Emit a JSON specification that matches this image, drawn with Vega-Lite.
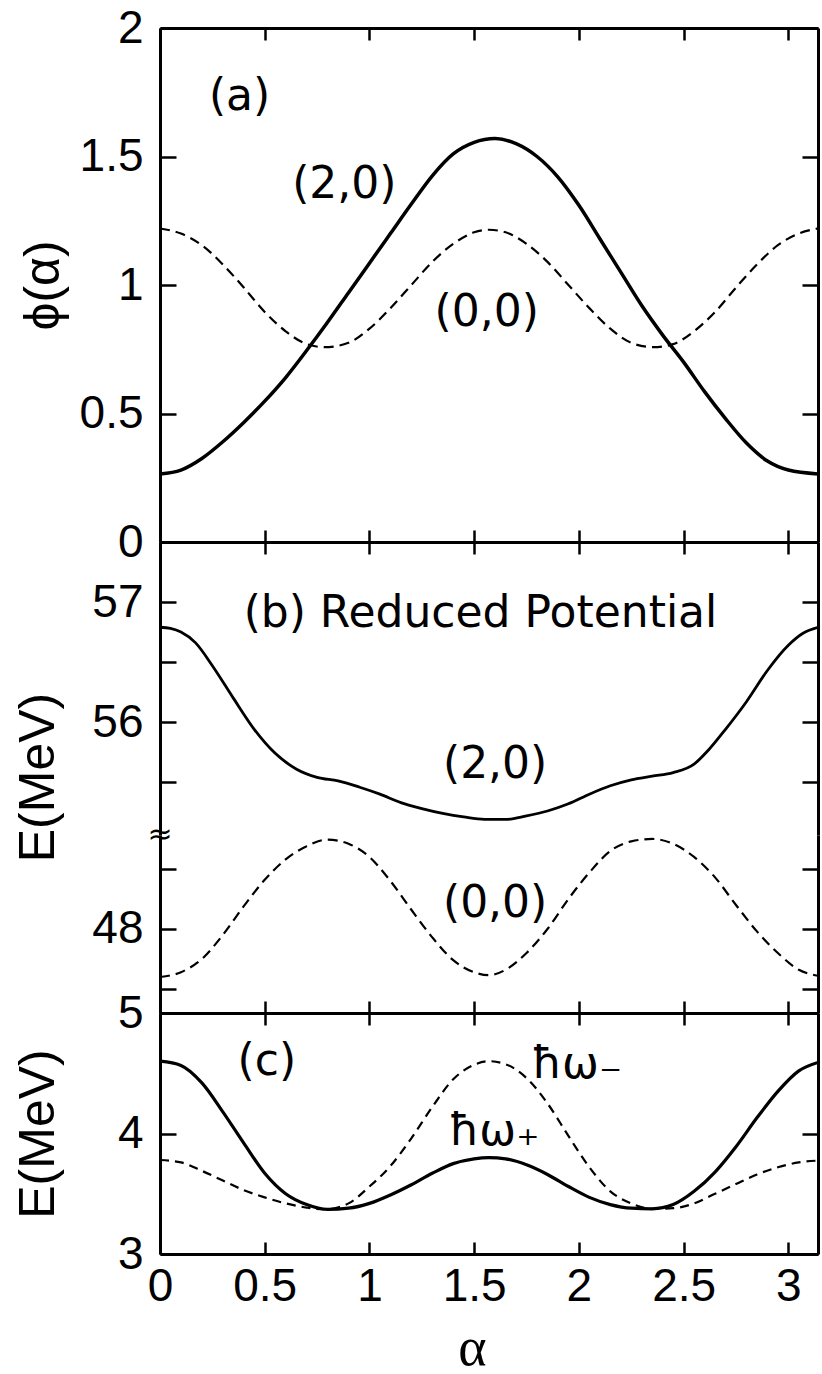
{
  "$schema": "https://vega.github.io/schema/vega-lite/v6.json",
  "padding": {"left": 13, "top": 5, "right": 0, "bottom": 0},
  "background": "white",
  "bounds": "flush",
  "spacing": 0,
  "config": {
    "view": {"stroke": null},
    "axis": {
      "labelFont": "Liberation Sans", "labelFontSize": 46, "labelColor": "black",
      "domainColor": "black", "domainWidth": 3, "tickColor": "black", "tickWidth": 2.5,
      "grid": false, "labelFlush": false, "labelOverlap": false,
      "titleFont": "Liberation Sans", "titleFontSize": 50, "titleFontWeight": "normal", "titleColor": "black"
    },
    "text": {"font": "DejaVu Sans", "fontSize": 44, "color": "black", "align": "center", "baseline": "middle"}
  },
  "datasets": {
    "a20": [
      {"alpha": 0, "v": 0.265}, {"alpha": 0.1, "v": 0.28}, {"alpha": 0.2, "v": 0.325}, {"alpha": 0.3, "v": 0.39},
      {"alpha": 0.4, "v": 0.465}, {"alpha": 0.5, "v": 0.548}, {"alpha": 0.6, "v": 0.64}, {"alpha": 0.7, "v": 0.745},
      {"alpha": 0.8, "v": 0.855}, {"alpha": 0.9, "v": 0.97}, {"alpha": 1.0, "v": 1.085}, {"alpha": 1.1, "v": 1.2},
      {"alpha": 1.2, "v": 1.315}, {"alpha": 1.3, "v": 1.425}, {"alpha": 1.4, "v": 1.51}, {"alpha": 1.5, "v": 1.555},
      {"alpha": 1.6, "v": 1.57}, {"alpha": 1.7, "v": 1.55}, {"alpha": 1.8, "v": 1.5}, {"alpha": 1.9, "v": 1.42},
      {"alpha": 2.0, "v": 1.31}, {"alpha": 2.1, "v": 1.18}, {"alpha": 2.2, "v": 1.05}, {"alpha": 2.3, "v": 0.92},
      {"alpha": 2.4, "v": 0.805}, {"alpha": 2.5, "v": 0.7}, {"alpha": 2.6, "v": 0.585}, {"alpha": 2.7, "v": 0.48},
      {"alpha": 2.8, "v": 0.385}, {"alpha": 2.9, "v": 0.315}, {"alpha": 3.0, "v": 0.28}, {"alpha": 3.1416, "v": 0.265}
    ],
    "a00": [
      {"alpha": 0, "v": 1.22}, {"alpha": 0.1, "v": 1.2}, {"alpha": 0.2, "v": 1.155}, {"alpha": 0.3, "v": 1.08},
      {"alpha": 0.4, "v": 0.99}, {"alpha": 0.5, "v": 0.895}, {"alpha": 0.6, "v": 0.82}, {"alpha": 0.7, "v": 0.77},
      {"alpha": 0.785, "v": 0.758}, {"alpha": 0.9, "v": 0.775}, {"alpha": 1.0, "v": 0.83}, {"alpha": 1.1, "v": 0.91},
      {"alpha": 1.2, "v": 1.0}, {"alpha": 1.3, "v": 1.09}, {"alpha": 1.4, "v": 1.16}, {"alpha": 1.5, "v": 1.205},
      {"alpha": 1.57, "v": 1.215}, {"alpha": 1.65, "v": 1.205}, {"alpha": 1.75, "v": 1.16}, {"alpha": 1.85, "v": 1.09},
      {"alpha": 1.95, "v": 1.0}, {"alpha": 2.05, "v": 0.91}, {"alpha": 2.15, "v": 0.83}, {"alpha": 2.25, "v": 0.775},
      {"alpha": 2.356, "v": 0.758}, {"alpha": 2.45, "v": 0.77}, {"alpha": 2.55, "v": 0.82}, {"alpha": 2.65, "v": 0.895},
      {"alpha": 2.75, "v": 0.99}, {"alpha": 2.85, "v": 1.08}, {"alpha": 2.95, "v": 1.155}, {"alpha": 3.05, "v": 1.2},
      {"alpha": 3.1416, "v": 1.22}
    ],
    "b20": [
      {"alpha": 0, "v": 56.79}, {"alpha": 0.05, "v": 56.78}, {"alpha": 0.1, "v": 56.75}, {"alpha": 0.17, "v": 56.66},
      {"alpha": 0.25, "v": 56.47}, {"alpha": 0.35, "v": 56.2}, {"alpha": 0.45, "v": 55.94}, {"alpha": 0.55, "v": 55.74},
      {"alpha": 0.65, "v": 55.61}, {"alpha": 0.75, "v": 55.54}, {"alpha": 0.85, "v": 55.51}, {"alpha": 0.95, "v": 55.46},
      {"alpha": 1.05, "v": 55.4}, {"alpha": 1.15, "v": 55.33}, {"alpha": 1.25, "v": 55.28}, {"alpha": 1.35, "v": 55.24},
      {"alpha": 1.45, "v": 55.21}, {"alpha": 1.55, "v": 55.19}, {"alpha": 1.65, "v": 55.19}, {"alpha": 1.75, "v": 55.22},
      {"alpha": 1.85, "v": 55.26}, {"alpha": 1.95, "v": 55.32}, {"alpha": 2.05, "v": 55.4}, {"alpha": 2.15, "v": 55.47},
      {"alpha": 2.25, "v": 55.52}, {"alpha": 2.35, "v": 55.55}, {"alpha": 2.45, "v": 55.58}, {"alpha": 2.55, "v": 55.65},
      {"alpha": 2.62, "v": 55.77}, {"alpha": 2.7, "v": 55.94}, {"alpha": 2.8, "v": 56.17}, {"alpha": 2.9, "v": 56.43},
      {"alpha": 3.0, "v": 56.64}, {"alpha": 3.07, "v": 56.74}, {"alpha": 3.1416, "v": 56.79}
    ],
    "b00": [
      {"alpha": 0, "v": 47.6}, {"alpha": 0.1, "v": 47.64}, {"alpha": 0.2, "v": 47.75}, {"alpha": 0.3, "v": 47.95},
      {"alpha": 0.4, "v": 48.19}, {"alpha": 0.5, "v": 48.41}, {"alpha": 0.6, "v": 48.58}, {"alpha": 0.7, "v": 48.69},
      {"alpha": 0.8, "v": 48.745}, {"alpha": 0.9, "v": 48.71}, {"alpha": 1.0, "v": 48.6}, {"alpha": 1.1, "v": 48.4},
      {"alpha": 1.2, "v": 48.16}, {"alpha": 1.3, "v": 47.93}, {"alpha": 1.4, "v": 47.74}, {"alpha": 1.5, "v": 47.64},
      {"alpha": 1.57, "v": 47.615}, {"alpha": 1.65, "v": 47.66}, {"alpha": 1.75, "v": 47.8}, {"alpha": 1.85, "v": 48.0},
      {"alpha": 1.95, "v": 48.25}, {"alpha": 2.05, "v": 48.47}, {"alpha": 2.15, "v": 48.65}, {"alpha": 2.25, "v": 48.73},
      {"alpha": 2.35, "v": 48.75}, {"alpha": 2.45, "v": 48.71}, {"alpha": 2.55, "v": 48.6}, {"alpha": 2.65, "v": 48.43},
      {"alpha": 2.75, "v": 48.2}, {"alpha": 2.85, "v": 47.98}, {"alpha": 2.95, "v": 47.8}, {"alpha": 3.05, "v": 47.66},
      {"alpha": 3.1416, "v": 47.61}
    ],
    "cs": [
      {"alpha": 0, "v": 4.6}, {"alpha": 0.1, "v": 4.565}, {"alpha": 0.2, "v": 4.42}, {"alpha": 0.3, "v": 4.18},
      {"alpha": 0.4, "v": 3.92}, {"alpha": 0.5, "v": 3.67}, {"alpha": 0.6, "v": 3.5}, {"alpha": 0.7, "v": 3.41},
      {"alpha": 0.8, "v": 3.37}, {"alpha": 0.9, "v": 3.38}, {"alpha": 1.0, "v": 3.42}, {"alpha": 1.1, "v": 3.49},
      {"alpha": 1.2, "v": 3.575}, {"alpha": 1.3, "v": 3.67}, {"alpha": 1.4, "v": 3.75}, {"alpha": 1.5, "v": 3.79},
      {"alpha": 1.57, "v": 3.8}, {"alpha": 1.65, "v": 3.79}, {"alpha": 1.75, "v": 3.74}, {"alpha": 1.85, "v": 3.66},
      {"alpha": 1.95, "v": 3.56}, {"alpha": 2.05, "v": 3.47}, {"alpha": 2.15, "v": 3.41}, {"alpha": 2.25, "v": 3.38},
      {"alpha": 2.35, "v": 3.375}, {"alpha": 2.45, "v": 3.41}, {"alpha": 2.55, "v": 3.52}, {"alpha": 2.65, "v": 3.68},
      {"alpha": 2.75, "v": 3.89}, {"alpha": 2.85, "v": 4.13}, {"alpha": 2.95, "v": 4.35}, {"alpha": 3.05, "v": 4.52},
      {"alpha": 3.1416, "v": 4.59}
    ],
    "cd": [
      {"alpha": 0, "v": 3.78}, {"alpha": 0.1, "v": 3.76}, {"alpha": 0.2, "v": 3.69}, {"alpha": 0.3, "v": 3.61},
      {"alpha": 0.4, "v": 3.53}, {"alpha": 0.5, "v": 3.47}, {"alpha": 0.6, "v": 3.42}, {"alpha": 0.7, "v": 3.385},
      {"alpha": 0.785, "v": 3.37}, {"alpha": 0.9, "v": 3.42}, {"alpha": 1.0, "v": 3.56}, {"alpha": 1.1, "v": 3.73},
      {"alpha": 1.2, "v": 3.96}, {"alpha": 1.3, "v": 4.22}, {"alpha": 1.4, "v": 4.45}, {"alpha": 1.5, "v": 4.57},
      {"alpha": 1.57, "v": 4.6}, {"alpha": 1.65, "v": 4.575}, {"alpha": 1.75, "v": 4.46}, {"alpha": 1.85, "v": 4.25},
      {"alpha": 1.95, "v": 3.98}, {"alpha": 2.05, "v": 3.72}, {"alpha": 2.15, "v": 3.52}, {"alpha": 2.25, "v": 3.42},
      {"alpha": 2.35, "v": 3.375}, {"alpha": 2.45, "v": 3.38}, {"alpha": 2.55, "v": 3.42}, {"alpha": 2.65, "v": 3.5},
      {"alpha": 2.75, "v": 3.58}, {"alpha": 2.85, "v": 3.66}, {"alpha": 2.95, "v": 3.72}, {"alpha": 3.05, "v": 3.76},
      {"alpha": 3.1416, "v": 3.775}
    ],
    "ta": [
      {"alpha": 0.38, "v": 1.73, "t": "(a)"},
      {"alpha": 0.88, "v": 1.39, "t": "(2,0)"},
      {"alpha": 1.56, "v": 0.89, "t": "(0,0)"}
    ],
    "tb1": [
      {"alpha": 1.53, "v": 56.9, "t": "(b) Reduced Potential"},
      {"alpha": 1.6, "v": 55.64, "t": "(2,0)"}
    ],
    "tb2": [
      {"alpha": 1.6, "v": 48.21, "t": "(0,0)"}
    ],
    "tc": [
      {"alpha": 0.51, "v": 4.59, "t": "(c)"},
      {"alpha": 1.99, "v": 4.57, "t": "ħω₋"},
      {"alpha": 1.595, "v": 4.01, "t": "ħω₊"}
    ],
    "brk": [
      {"alpha": 0, "v": 55.06}
    ]
  },
  "vconcat": [
    {
      "width": 658, "height": 514,
      "layer": [
        {
          "data": {"name": "a20"},
          "mark": {"type": "line", "color": "black", "strokeWidth": 3.5, "interpolate": "monotone", "clip": true},
          "encoding": {
            "x": {"field": "alpha", "type": "quantitative", "scale": {"domain": [0, 3.1416], "nice": false, "zero": false},
              "axis": {"orient": "bottom", "values": [0, 0.5, 1, 1.5, 2, 2.5, 3], "labels": false, "tickSize": -12, "title": null}},
            "y": {"field": "v", "type": "quantitative", "scale": {"domain": [0, 2], "nice": false, "zero": false},
              "axis": {"orient": "left", "values": [0, 0.5, 1, 1.5, 2], "format": "~g", "tickSize": -16, "labelPadding": 33,
                "title": "ϕ(α)", "titleX": -117, "titleBaseline": "middle"}}
          }
        },
        {
          "data": {"name": "a00"},
          "mark": {"type": "line", "color": "black", "strokeWidth": 2.2, "strokeDash": [10, 6], "interpolate": "monotone", "clip": true},
          "encoding": {
            "x": {"field": "alpha", "type": "quantitative", "axis": null},
            "y": {"field": "v", "type": "quantitative", "axis": null}
          }
        },
        {
          "data": {"name": "ta"},
          "mark": {"type": "text"},
          "encoding": {
            "x": {"field": "alpha", "type": "quantitative",
              "axis": {"orient": "top", "values": [0, 0.5, 1, 1.5, 2, 2.5, 3], "labels": false, "tickSize": -12, "title": null}},
            "y": {"field": "v", "type": "quantitative",
              "axis": {"orient": "right", "values": [0, 0.5, 1, 1.5, 2], "labels": false, "tickSize": -16, "title": null}},
            "text": {"field": "t"}
          }
        }
      ],
      "resolve": {"axis": {"x": "independent", "y": "independent"}}
    },
    {
      "width": 658, "height": 293,
      "layer": [
        {
          "data": {"name": "b20"},
          "mark": {"type": "line", "color": "black", "strokeWidth": 2.8, "interpolate": "monotone", "clip": true},
          "encoding": {
            "x": {"field": "alpha", "type": "quantitative", "scale": {"domain": [0, 3.1416], "nice": false, "zero": false}, "axis": null},
            "y": {"field": "v", "type": "quantitative", "scale": {"domain": [55.06, 57.5], "nice": false, "zero": false},
              "axis": {"orient": "left", "values": [55.5, 56, 56.5, 57], "format": "~g", "labelExpr": "datum.value % 1 == 0 ? datum.label : ''",
                "tickSize": -16, "labelPadding": 33, "title": "E(MeV)", "titleX": -122, "titleY": 235, "titleBaseline": "middle"}}
          }
        },
        {
          "data": {"name": "tb1"},
          "mark": {"type": "text"},
          "encoding": {
            "x": {"field": "alpha", "type": "quantitative",
              "axis": {"orient": "top", "values": [0, 0.5, 1, 1.5, 2, 2.5, 3], "labels": false, "tickSize": -12, "title": null}},
            "y": {"field": "v", "type": "quantitative",
              "axis": {"orient": "right", "values": [55.5, 56, 56.5, 57], "labels": false, "tickSize": -16, "title": null}},
            "text": {"field": "t"}
          }
        },
        {
          "data": {"name": "brk"},
          "mark": {"type": "text", "fontSize": 30, "font": "DejaVu Sans"},
          "encoding": {
            "x": {"field": "alpha", "type": "quantitative", "axis": null},
            "y": {"field": "v", "type": "quantitative", "axis": null},
            "text": {"value": "≈"}
          }
        }
      ],
      "resolve": {"axis": {"x": "independent", "y": "independent"}}
    },
    {
      "width": 658, "height": 178,
      "layer": [
        {
          "data": {"name": "b00"},
          "mark": {"type": "line", "color": "black", "strokeWidth": 2.2, "strokeDash": [10, 6], "interpolate": "monotone", "clip": true},
          "encoding": {
            "x": {"field": "alpha", "type": "quantitative", "scale": {"domain": [0, 3.1416], "nice": false, "zero": false},
              "axis": {"orient": "bottom", "values": [0, 0.5, 1, 1.5, 2, 2.5, 3], "labels": false, "tickSize": -12, "title": null}},
            "y": {"field": "v", "type": "quantitative", "scale": {"domain": [47.3, 48.783], "nice": false, "zero": false},
              "axis": {"orient": "left", "values": [47.5, 48, 48.5], "format": "~g", "labelExpr": "datum.value % 1 == 0 ? datum.label : ''",
                "tickSize": -16, "labelPadding": 33, "title": null}}
          }
        },
        {
          "data": {"name": "tb2"},
          "mark": {"type": "text"},
          "encoding": {
            "x": {"field": "alpha", "type": "quantitative", "axis": null},
            "y": {"field": "v", "type": "quantitative",
              "axis": {"orient": "right", "values": [47.5, 48, 48.5], "labels": false, "tickSize": -16, "title": null}},
            "text": {"field": "t"}
          }
        }
      ],
      "resolve": {"axis": {"x": "independent", "y": "independent"}}
    },
    {
      "width": 658, "height": 241,
      "layer": [
        {
          "data": {"name": "cs"},
          "mark": {"type": "line", "color": "black", "strokeWidth": 3.2, "interpolate": "monotone", "clip": true},
          "encoding": {
            "x": {"field": "alpha", "type": "quantitative", "scale": {"domain": [0, 3.1416], "nice": false, "zero": false},
              "axis": {"orient": "bottom", "values": [0, 0.5, 1, 1.5, 2, 2.5, 3], "format": "~g", "tickSize": -12, "labelPadding": 22,
                "title": "α", "titleFont": "Liberation Serif", "titleFontSize": 54, "titleX": 312, "titleY": 110, "titleBaseline": "alphabetic"}},
            "y": {"field": "v", "type": "quantitative", "scale": {"domain": [3, 5], "nice": false, "zero": false},
              "axis": {"orient": "left", "values": [3, 4, 5], "format": "~g", "tickSize": -16, "labelPadding": 33,
                "title": "E(MeV)", "titleX": -122, "titleBaseline": "middle"}}
          }
        },
        {
          "data": {"name": "cd"},
          "mark": {"type": "line", "color": "black", "strokeWidth": 2.2, "strokeDash": [9, 6], "interpolate": "monotone", "clip": true},
          "encoding": {
            "x": {"field": "alpha", "type": "quantitative", "axis": null},
            "y": {"field": "v", "type": "quantitative", "axis": null}
          }
        },
        {
          "data": {"name": "tc"},
          "mark": {"type": "text"},
          "encoding": {
            "x": {"field": "alpha", "type": "quantitative",
              "axis": {"orient": "top", "values": [0, 0.5, 1, 1.5, 2, 2.5, 3], "labels": false, "tickSize": -12, "title": null}},
            "y": {"field": "v", "type": "quantitative",
              "axis": {"orient": "right", "values": [3, 4, 5], "labels": false, "tickSize": -16, "title": null}},
            "text": {"field": "t"}
          }
        }
      ],
      "resolve": {"axis": {"x": "independent", "y": "independent"}}
    }
  ]
}
